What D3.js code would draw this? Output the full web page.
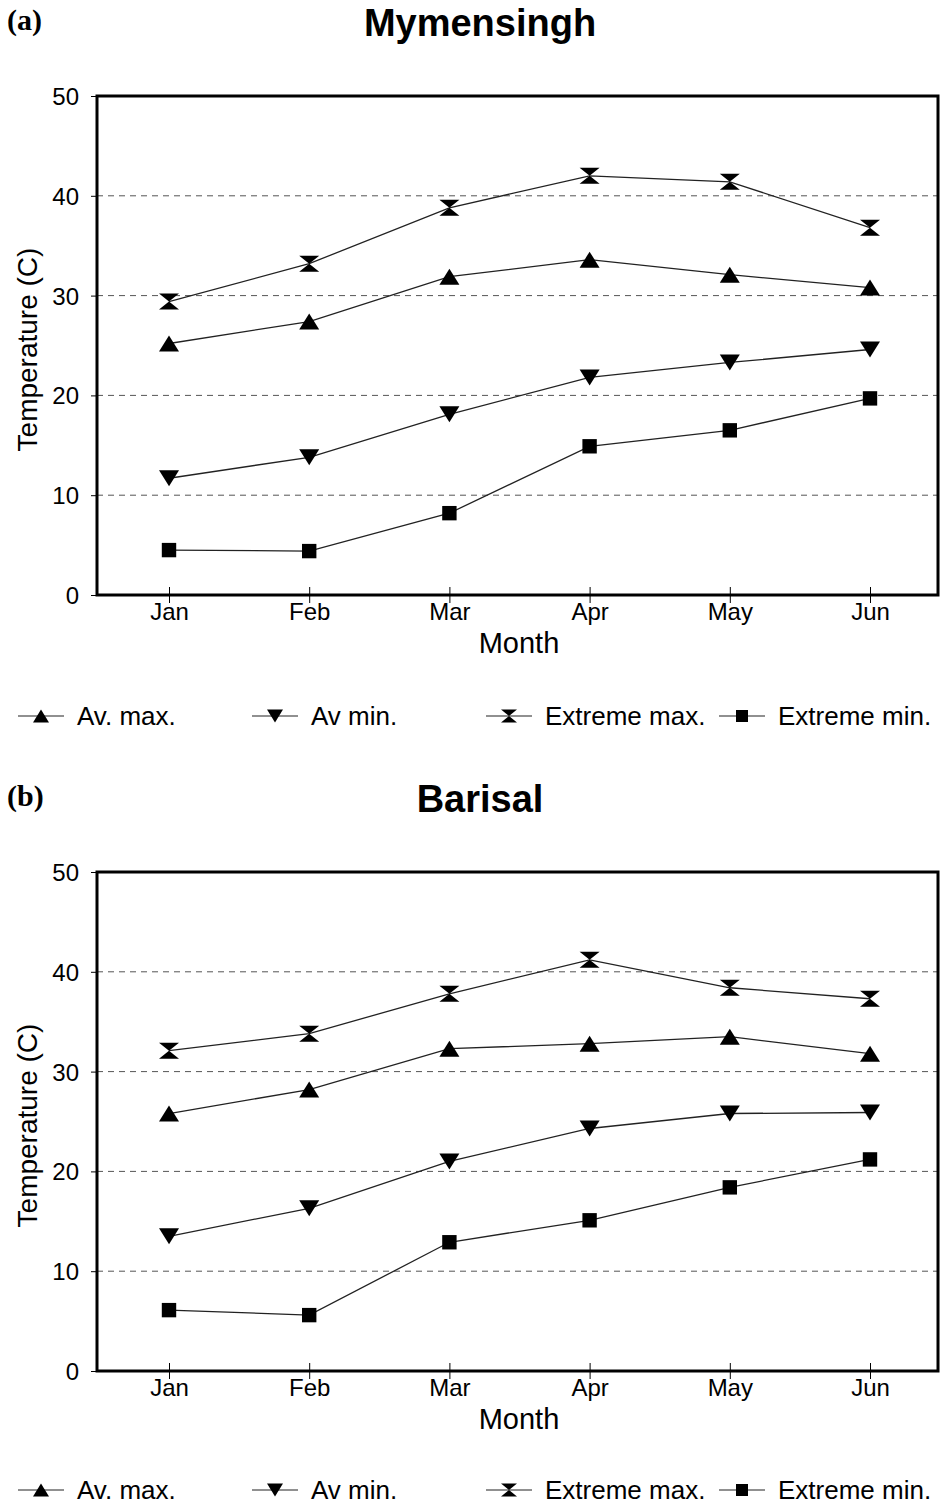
<!DOCTYPE html>
<html>
<head>
<meta charset="utf-8">
<script src="https://cdn.jsdelivr.net/npm/d3@7"></script>
<style>
  body { margin: 0; background: #fff; }
  text { font-family: "Liberation Sans", Arial, sans-serif; fill: #000; }
</style>
</head>
<body>
<div class="chart"></div>
<script>
var svgWidth = 940;
var svgHeight = 1506;

// data
var months = ["Jan", "Feb", "Mar", "Apr", "May", "Jun"];
var yTicks = [0, 10, 20, 30, 40, 50];
var seriesNames = ["Av. max.", "Av min.", "Extreme max.", "Extreme min."];

var mymAvMax = [25.2, 27.4, 31.9, 33.6, 32.1, 30.8];
var mymAvMin = [11.7, 13.8, 18.1, 21.8, 23.3, 24.6];
var mymExtMax = [29.4, 33.2, 38.8, 42.0, 41.4, 36.8];
var mymExtMin = [4.5, 4.4, 8.2, 14.9, 16.5, 19.7];

var barAvMax = [25.8, 28.2, 32.3, 32.8, 33.5, 31.8];
var barAvMin = [13.5, 16.3, 21.0, 24.3, 25.8, 25.9];
var barExtMax = [32.1, 33.8, 37.8, 41.2, 38.4, 37.3];
var barExtMin = [6.1, 5.6, 12.9, 15.1, 18.4, 21.2];

var svg = d3.select(".chart")
  .append("svg")
  .attr("width", svgWidth)
  .attr("height", svgHeight);

// marker shapes
function markerPath(kind, s) {
  var h = s / 2;
  if (kind === "up") return `M${-h},${h * 0.8}L${h},${h * 0.8}L0,${-h * 0.8}Z`;
  if (kind === "down") return `M${-h},${-h * 0.8}L${h},${-h * 0.8}L0,${h * 0.8}Z`;
  if (kind === "hour") return `M${-h},${-h * 0.8}L${h},${-h * 0.8}L0,0Z M${-h},${h * 0.8}L${h},${h * 0.8}L0,0Z`;
  var q = h * 0.8;
  return `M${-q},${-q}L${q},${-q}L${q},${q}L${-q},${q}Z`;
}
var kinds = ["up", "down", "hour", "square"];

function drawPanel(cfg) {
  var left = 97, right = 938;
  var top = cfg.top, bottom = cfg.top + 499;

  var x = d3.scalePoint().domain(months).range([169, 870]);
  var y = d3.scaleLinear().domain([0, 50]).range([bottom, top]);

  var g = svg.append("g");

  // panel tag and title
  g.append("text")
    .attr("x", 7).attr("y", cfg.top - 66)
    .style("font-family", "'Liberation Serif', 'Times New Roman', serif")
    .style("font-weight", "bold")
    .style("font-size", "30px")
    .text(cfg.tag);
  g.append("text")
    .attr("x", 480).attr("y", cfg.top - 60)
    .attr("text-anchor", "middle")
    .style("font-weight", "bold")
    .style("font-size", "38px")
    .text(cfg.title);

  // dashed grid
  g.selectAll(".grid")
    .data(yTicks.filter(d => d > 0 && d < 50))
    .enter()
    .append("line")
    .attr("x1", left).attr("x2", right)
    .attr("y1", d => y(d)).attr("y2", d => y(d))
    .attr("stroke", "#555")
    .attr("stroke-width", 1)
    .attr("stroke-dasharray", "6,5");

  // axes
  var leftAxis = d3.axisLeft(y).tickValues(yTicks).tickSize(6).tickPadding(12);
  var yAxis = g.append("g")
    .attr("transform", `translate(${left},0)`)
    .call(leftAxis);
  yAxis.select(".domain").remove();
  yAxis.selectAll("text").style("font-size", "24px").attr("dy", "0.35em");

  var bottomAxis = d3.axisBottom(x).tickSizeInner(8).tickSizeOuter(0).tickPadding(0);
  var xAxis = g.append("g")
    .attr("transform", `translate(0,${bottom})`)
    .call(bottomAxis);
  xAxis.select(".domain").remove();
  xAxis.selectAll(".tick line").attr("y1", -8).attr("stroke-width", 1);
  xAxis.selectAll("text").style("font-size", "24px");

  // frame
  g.append("rect")
    .attr("x", left).attr("y", top)
    .attr("width", right - left).attr("height", bottom - top)
    .attr("fill", "none")
    .attr("stroke", "#000")
    .attr("stroke-width", 3);

  // axis titles
  g.append("text")
    .attr("x", 519).attr("y", bottom + 58)
    .attr("text-anchor", "middle")
    .style("font-size", "29px")
    .text("Month");
  g.append("text")
    .attr("transform", `translate(37,${(top + bottom) / 2 + 4}) rotate(-90)`)
    .attr("text-anchor", "middle")
    .style("font-size", "28px")
    .text("Temperature (C)");

  // lines and markers
  var line = d3.line().x((d, i) => x(months[i])).y(d => y(d));
  cfg.series.forEach(function(vals, k) {
    g.append("path")
      .attr("d", line(vals))
      .attr("fill", "none")
      .attr("stroke", "#222")
      .attr("stroke-width", 1.3);
    g.selectAll(".m" + k)
      .data(vals)
      .enter()
      .append("path")
      .attr("transform", (d, i) => `translate(${x(months[i])},${y(d)})`)
      .attr("d", markerPath(kinds[k], kinds[k] === "square" ? 18 : 20))
      .attr("fill", "#000");
  });

  // legend
  var legX = [18, 252, 486, 719];
  var legY = cfg.legendY;
  seriesNames.forEach(function(name, k) {
    var lg = g.append("g").attr("transform", `translate(${legX[k]},${legY})`);
    lg.append("line")
      .attr("x1", 0).attr("x2", 46)
      .attr("y1", 0).attr("y2", 0)
      .attr("stroke", "#222").attr("stroke-width", 1.2);
    lg.append("path")
      .attr("transform", "translate(23,0)")
      .attr("d", markerPath(kinds[k], kinds[k] === "square" ? 15 : 16))
      .attr("fill", "#000");
    lg.append("text")
      .attr("x", 59).attr("y", 0)
      .attr("dy", "0.35em")
      .style("font-size", "26px")
      .text(name);
  });
}

drawPanel({
  tag: "(a)", title: "Mymensingh", top: 96, legendY: 716,
  series: [mymAvMax, mymAvMin, mymExtMax, mymExtMin]
});

drawPanel({
  tag: "(b)", title: "Barisal", top: 872, legendY: 1490,
  series: [barAvMax, barAvMin, barExtMax, barExtMin]
});
</script>
</body>
</html>
